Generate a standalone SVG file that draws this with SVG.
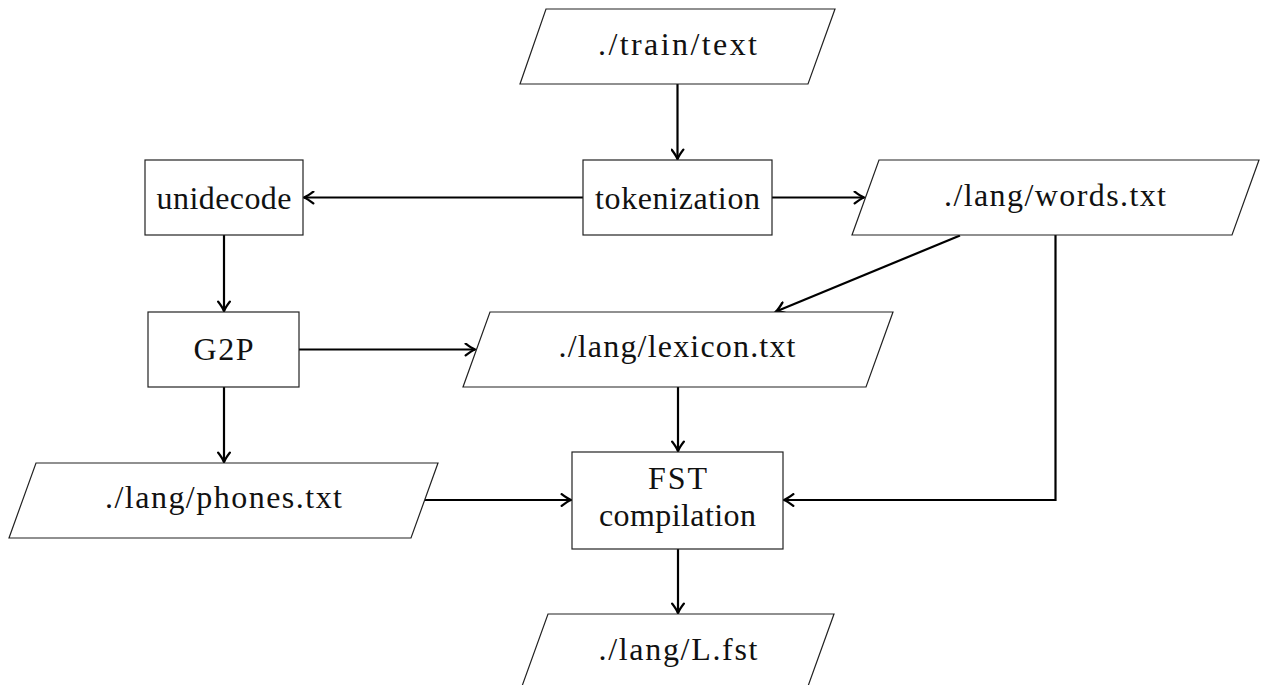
<svg xmlns="http://www.w3.org/2000/svg" width="1262" height="685" viewBox="0 0 1262 685">
  <style>
    .shape { fill: #ffffff; stroke: #222222; stroke-width: 1.2; }
    .label { font-family: "Liberation Serif", "Times New Roman", serif; font-size: 32px; fill: #111111; text-anchor: middle; }
    .edge { fill: none; stroke: #000000; stroke-width: 2.2; marker-end: url(#tip); }
  </style>
  <defs>
    <marker id="tip" markerUnits="userSpaceOnUse" markerWidth="14" markerHeight="14" viewBox="-10 -6 12 12" refX="0" refY="0" orient="auto">
      <path d="M-8,-5 Q-3,-1.2 0,0 Q-3,1.2 -8,5" fill="none" stroke="#000000" stroke-width="2" stroke-linecap="round"/>
    </marker>
  </defs>
  <rect width="1262" height="685" fill="#ffffff"/>

  <!-- connectors -->
  <g id="connectors">
    <path class="edge" d="M677.5,84 V159"/>
    <path class="edge" d="M583,197.5 H304"/>
    <path class="edge" d="M772,197.5 H864"/>
    <path class="edge" d="M224,235 V311"/>
    <path class="edge" d="M299,349.5 H475"/>
    <path class="edge" d="M960,235.5 L776,311.5"/>
    <path class="edge" d="M1055.5,235 V500 H784"/>
    <path class="edge" d="M678,387 V451"/>
    <path class="edge" d="M224,387 V462"/>
    <path class="edge" d="M425,500 H571"/>
    <path class="edge" d="M678,549 V613"/>
  </g>

  <!-- nodes -->
  <g id="train-text">
    <polygon class="shape" points="546,9 835,9 808,84 520,84"/>
    <text class="label" x="677.5" y="54.5" textLength="159" lengthAdjust="spacing">./train/text</text>
  </g>
  <g id="tokenization">
    <rect class="shape" x="583" y="160" width="189" height="75"/>
    <text class="label" x="677.5" y="208.5" textLength="165" lengthAdjust="spacing">tokenization</text>
  </g>
  <g id="unidecode">
    <rect class="shape" x="145" y="160" width="158" height="75"/>
    <text class="label" x="224" y="208.5" textLength="135" lengthAdjust="spacing">unidecode</text>
  </g>
  <g id="words">
    <polygon class="shape" points="879,160 1259,160 1232,235 852,235"/>
    <text class="label" x="1055" y="205.5" textLength="222" lengthAdjust="spacing">./lang/words.txt</text>
  </g>
  <g id="g2p">
    <rect class="shape" x="148" y="312" width="151" height="75"/>
    <text class="label" x="223.5" y="360" textLength="60" lengthAdjust="spacing">G2P</text>
  </g>
  <g id="lexicon">
    <polygon class="shape" points="490,312 893,312 866,387 463,387"/>
    <text class="label" x="677" y="357" textLength="237" lengthAdjust="spacing">./lang/lexicon.txt</text>
  </g>
  <g id="phones">
    <polygon class="shape" points="36,463 438,463 411,538 9,538"/>
    <text class="label" x="223.5" y="508" textLength="237" lengthAdjust="spacing">./lang/phones.txt</text>
  </g>
  <g id="fst-compilation">
    <rect class="shape" x="572" y="452" width="211" height="97"/>
    <text class="label" x="677.5" y="489" textLength="59" lengthAdjust="spacing">FST</text>
    <text class="label" x="677.5" y="526" textLength="157" lengthAdjust="spacing">compilation</text>
  </g>
  <g id="l-fst">
    <polygon class="shape" points="548,614 834,614 807,689 521,689"/>
    <text class="label" x="678" y="660" textLength="159" lengthAdjust="spacing">./lang/L.fst</text>
  </g>
</svg>
